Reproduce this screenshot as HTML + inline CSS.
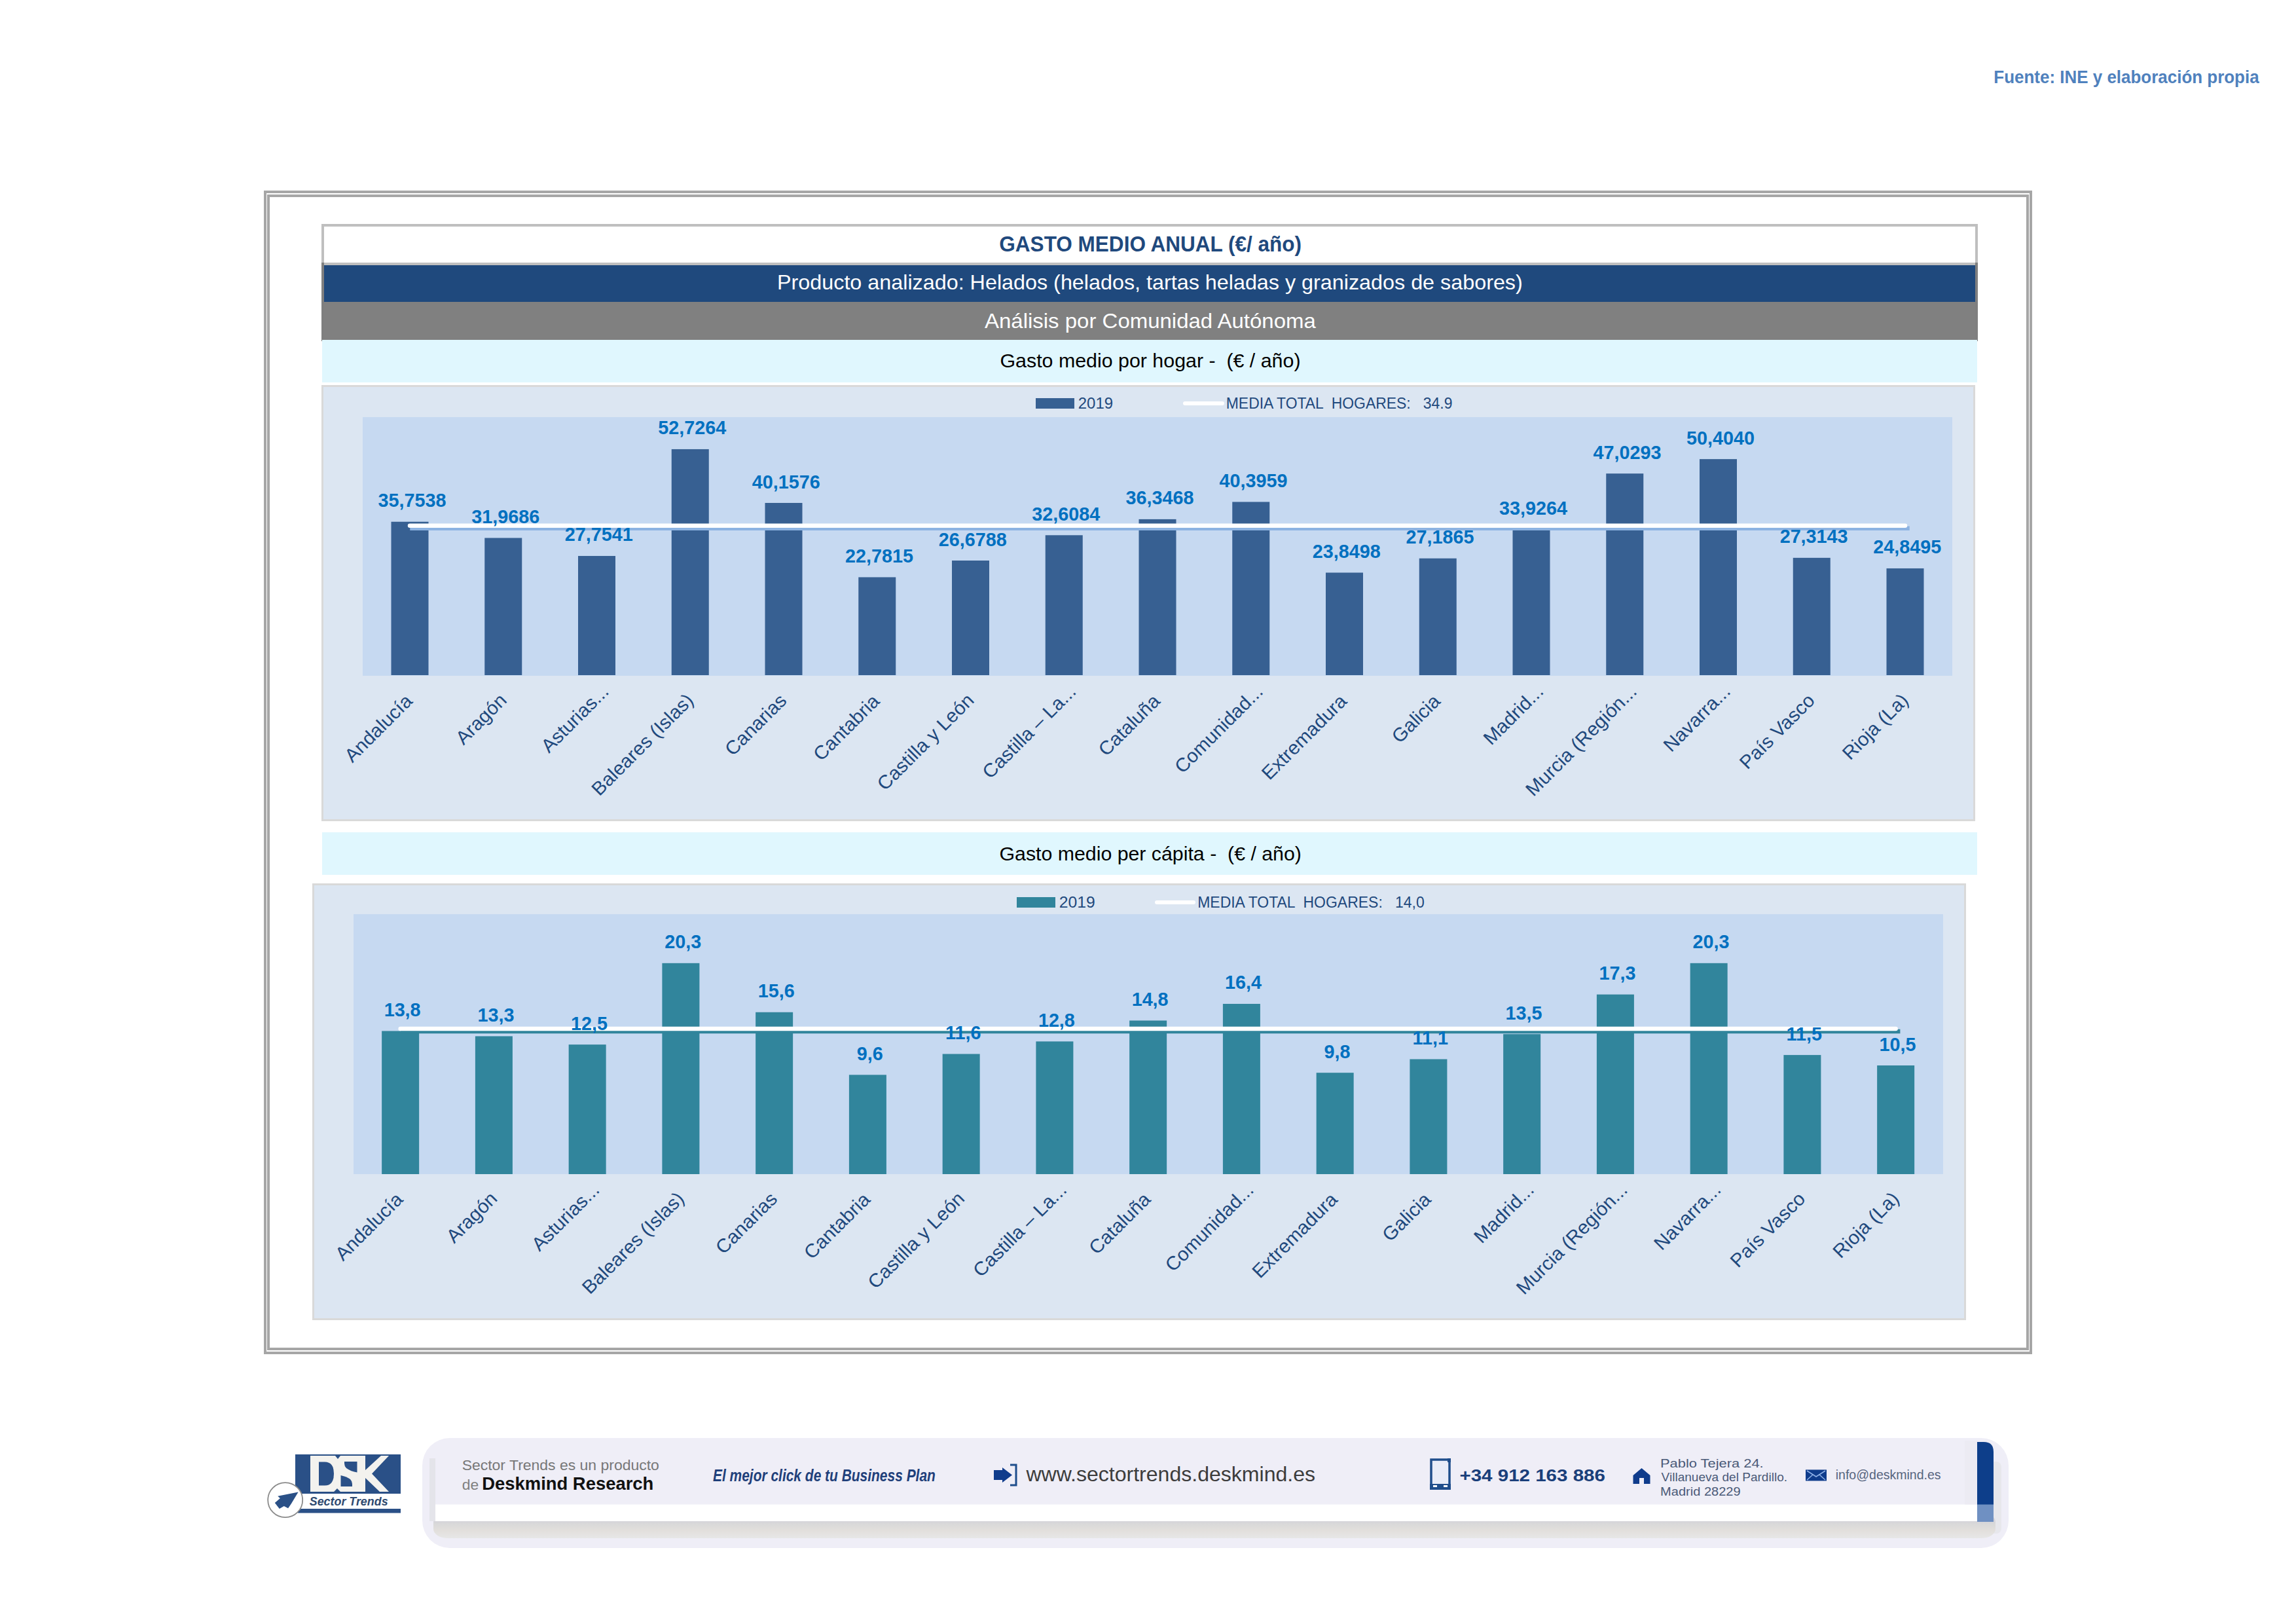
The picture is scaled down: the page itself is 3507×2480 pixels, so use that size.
<!DOCTYPE html>
<html><head><meta charset="utf-8"><style>
html,body{margin:0;padding:0;background:#ffffff;}
body{width:3507px;height:2480px;overflow:hidden;}
svg{display:block;font-family:"Liberation Sans",sans-serif;}
text{white-space:pre;}
</style></head><body>
<svg width="3507" height="2480" viewBox="0 0 3507 2480">
<text transform="matrix(0.9402 0 0 1 3045.31 127.00)" font-size="27.62" font-weight="bold" fill="#4f81bd">Fuente: INE y elaboración propia</text>
<rect x="405" y="293" width="2697" height="1773" fill="none" stroke="#a6a6a6" stroke-width="4"/>
<rect x="410" y="299" width="2687" height="1761" fill="none" stroke="#a6a6a6" stroke-width="4"/>
<rect x="491" y="342" width="2530" height="63" fill="#bfbfbf"/>
<rect x="495" y="346" width="2522" height="55" fill="#ffffff"/>
<text transform="matrix(0.9430 0 0 1 1526.34 384.00)" font-size="33.43" font-weight="bold" fill="#1f497d">GASTO MEDIO ANUAL (€/ año)</text>
<rect x="491" y="401" width="4" height="120" fill="#7f7f7f"/>
<rect x="3017" y="401" width="4" height="120" fill="#7f7f7f"/>
<rect x="495" y="401" width="2522" height="4" fill="#bfbfbf"/>
<rect x="495" y="405" width="2522" height="56" fill="#1f497d"/>
<rect x="495" y="461" width="2522" height="58" fill="#808080"/>
<text transform="matrix(1.0107 0 0 1 1187.01 441.80)" font-size="31.98" fill="#ffffff">Producto analizado: Helados (helados, tartas heladas y granizados de sabores)</text>
<text transform="matrix(1.0316 0 0 1 1504.00 500.60)" font-size="31.98" fill="#ffffff">Análisis por Comunidad Autónoma</text>
<rect x="492" y="519" width="2528" height="65" fill="#e0f7fe"/>
<text transform="matrix(1.0447 0 0 1 1527.48 561.40)" font-size="29.07" fill="#000000">Gasto medio por hogar -  (€ / año)</text>
<rect x="491" y="588" width="2526" height="666" fill="#d9d9d9"/>
<rect x="494" y="591" width="2520" height="660" fill="#dce6f2"/>
<rect x="554" y="637" width="2428" height="395" fill="#c6d9f1"/>
<rect x="597.50" y="796.76" width="57" height="234.24" fill="#376092"/>
<rect x="740.25" y="821.48" width="57" height="209.52" fill="#376092"/>
<rect x="883.00" y="848.99" width="57" height="182.01" fill="#376092"/>
<rect x="1025.75" y="685.95" width="57" height="345.05" fill="#376092"/>
<rect x="1168.50" y="768.01" width="57" height="262.99" fill="#376092"/>
<rect x="1311.25" y="881.46" width="57" height="149.54" fill="#376092"/>
<rect x="1454.00" y="856.01" width="57" height="174.99" fill="#376092"/>
<rect x="1596.75" y="817.30" width="57" height="213.70" fill="#376092"/>
<rect x="1739.50" y="792.89" width="57" height="238.11" fill="#376092"/>
<rect x="1882.25" y="766.46" width="57" height="264.54" fill="#376092"/>
<rect x="2025.00" y="874.48" width="57" height="156.52" fill="#376092"/>
<rect x="2167.75" y="852.70" width="57" height="178.30" fill="#376092"/>
<rect x="2310.50" y="808.69" width="57" height="222.31" fill="#376092"/>
<rect x="2453.25" y="723.15" width="57" height="307.85" fill="#376092"/>
<rect x="2596.00" y="701.11" width="57" height="329.89" fill="#376092"/>
<rect x="2738.75" y="851.86" width="57" height="179.14" fill="#376092"/>
<rect x="2881.50" y="867.96" width="57" height="163.04" fill="#376092"/>
<line x1="629.50" y1="806.80" x2="2913.50" y2="806.80" stroke="#8db3e2" stroke-width="6.5" stroke-linecap="square"/>
<line x1="626.00" y1="802.80" x2="2910.00" y2="802.80" stroke="#ffffff" stroke-width="6.5" stroke-linecap="round"/>
<text transform="matrix(0.9900 0 0 1 577.45 774.26)" font-size="29.07" font-weight="bold" fill="#0070c0">35,7538</text>
<text transform="matrix(0.9900 0 0 1 720.28 798.98)" font-size="29.07" font-weight="bold" fill="#0070c0">31,9686</text>
<text transform="matrix(0.9900 0 0 1 862.74 826.49)" font-size="29.07" font-weight="bold" fill="#0070c0">27,7541</text>
<text transform="matrix(0.9900 0 0 1 1005.27 663.45)" font-size="29.07" font-weight="bold" fill="#0070c0">52,7264</text>
<text transform="matrix(0.9900 0 0 1 1148.67 745.51)" font-size="29.07" font-weight="bold" fill="#0070c0">40,1576</text>
<text transform="matrix(0.9900 0 0 1 1290.99 858.96)" font-size="29.07" font-weight="bold" fill="#0070c0">22,7815</text>
<text transform="matrix(0.9900 0 0 1 1433.81 833.51)" font-size="29.07" font-weight="bold" fill="#0070c0">26,6788</text>
<text transform="matrix(0.9900 0 0 1 1576.34 794.80)" font-size="29.07" font-weight="bold" fill="#0070c0">32,6084</text>
<text transform="matrix(0.9900 0 0 1 1719.45 770.39)" font-size="29.07" font-weight="bold" fill="#0070c0">36,3468</text>
<text transform="matrix(0.9900 0 0 1 1862.42 743.96)" font-size="29.07" font-weight="bold" fill="#0070c0">40,3959</text>
<text transform="matrix(0.9900 0 0 1 2004.81 851.98)" font-size="29.07" font-weight="bold" fill="#0070c0">23,8498</text>
<text transform="matrix(0.9900 0 0 1 2147.49 830.20)" font-size="29.07" font-weight="bold" fill="#0070c0">27,1865</text>
<text transform="matrix(0.9900 0 0 1 2290.09 786.19)" font-size="29.07" font-weight="bold" fill="#0070c0">33,9264</text>
<text transform="matrix(0.9900 0 0 1 2433.42 700.65)" font-size="29.07" font-weight="bold" fill="#0070c0">47,0293</text>
<text transform="matrix(0.9900 0 0 1 2576.03 678.61)" font-size="29.07" font-weight="bold" fill="#0070c0">50,4040</text>
<text transform="matrix(0.9900 0 0 1 2718.63 829.36)" font-size="29.07" font-weight="bold" fill="#0070c0">27,3143</text>
<text transform="matrix(0.9900 0 0 1 2861.24 845.46)" font-size="29.07" font-weight="bold" fill="#0070c0">24,8495</text>
<text transform="matrix(0.72125 -0.72125 0.70711 0.70711 538.30 1165.70)" font-size="29.07" fill="#1f497d">Andalucía</text>
<text transform="matrix(0.72125 -0.72125 0.70711 0.70711 708.00 1138.75)" font-size="29.07" fill="#1f497d">Aragón</text>
<text transform="matrix(0.72125 -0.72125 0.70711 0.70711 838.42 1151.08)" font-size="29.07" fill="#1f497d">Asturias...</text>
<text transform="matrix(0.72125 -0.72125 0.70711 0.70711 915.40 1216.85)" font-size="29.07" fill="#1f497d">Baleares (Islas)</text>
<text transform="matrix(0.72125 -0.72125 0.70711 0.70711 1119.37 1155.63)" font-size="29.07" fill="#1f497d">Canarias</text>
<text transform="matrix(0.72125 -0.72125 0.70711 0.70711 1254.36 1163.39)" font-size="29.07" fill="#1f497d">Cantabria</text>
<text transform="matrix(0.72125 -0.72125 0.70711 0.70711 1351.82 1208.68)" font-size="29.07" fill="#1f497d">Castilla y León</text>
<text transform="matrix(0.72125 -0.72125 0.70711 0.70711 1512.54 1190.71)" font-size="29.07" fill="#1f497d">Castilla – La...</text>
<text transform="matrix(0.72125 -0.72125 0.70711 0.70711 1689.63 1156.37)" font-size="29.07" fill="#1f497d">Cataluña</text>
<text transform="matrix(0.72125 -0.72125 0.70711 0.70711 1806.22 1182.53)" font-size="29.07" fill="#1f497d">Comunidad...</text>
<text transform="matrix(0.72125 -0.72125 0.70711 0.70711 1938.97 1192.53)" font-size="29.07" fill="#1f497d">Extremadura</text>
<text transform="matrix(0.72125 -0.72125 0.70711 0.70711 2137.70 1136.55)" font-size="29.07" fill="#1f497d">Galicia</text>
<text transform="matrix(0.72125 -0.72125 0.70711 0.70711 2277.66 1139.34)" font-size="29.07" fill="#1f497d">Madrid...</text>
<text transform="matrix(0.72125 -0.72125 0.70711 0.70711 2342.31 1217.44)" font-size="29.07" fill="#1f497d">Murcia (Región...</text>
<text transform="matrix(0.72125 -0.72125 0.70711 0.70711 2552.68 1149.82)" font-size="29.07" fill="#1f497d">Navarra...</text>
<text transform="matrix(0.72125 -0.72125 0.70711 0.70711 2669.07 1176.18)" font-size="29.07" fill="#1f497d">País Vasco</text>
<text transform="matrix(0.72125 -0.72125 0.70711 0.70711 2825.97 1162.03)" font-size="29.07" fill="#1f497d">Rioja (La)</text>
<rect x="1582" y="608" width="59" height="16" fill="#376092"/>
<text transform="matrix(0.9690 0 0 1 1646.80 624.00)" font-size="24.71" fill="#1f497d">2019</text>
<line x1="1810" y1="616" x2="1867" y2="616" stroke="#ffffff" stroke-width="6" stroke-linecap="round"/>
<text transform="matrix(0.9282 0 0 1 1872.77 624.00)" font-size="24.71" fill="#1f497d">MEDIA TOTAL  HOGARES:   34.9</text>
<rect x="492" y="1271" width="2528" height="65" fill="#e0f7fe"/>
<text transform="matrix(1.0424 0 0 1 1526.48 1313.50)" font-size="29.07" fill="#000000">Gasto medio per cápita -  (€ / año)</text>
<rect x="477" y="1349" width="2526" height="667" fill="#d9d9d9"/>
<rect x="480" y="1352" width="2520" height="661" fill="#dce6f2"/>
<rect x="540" y="1396" width="2428" height="397" fill="#c6d9f1"/>
<rect x="583.15" y="1574.43" width="57" height="218.57" fill="#31859c"/>
<rect x="725.90" y="1582.40" width="57" height="210.60" fill="#31859c"/>
<rect x="868.65" y="1595.15" width="57" height="197.85" fill="#31859c"/>
<rect x="1011.40" y="1470.82" width="57" height="322.18" fill="#31859c"/>
<rect x="1154.15" y="1545.74" width="57" height="247.26" fill="#31859c"/>
<rect x="1296.90" y="1641.38" width="57" height="151.62" fill="#31859c"/>
<rect x="1439.65" y="1609.50" width="57" height="183.50" fill="#31859c"/>
<rect x="1582.40" y="1590.37" width="57" height="202.63" fill="#31859c"/>
<rect x="1725.15" y="1558.49" width="57" height="234.51" fill="#31859c"/>
<rect x="1867.90" y="1532.98" width="57" height="260.02" fill="#31859c"/>
<rect x="2010.65" y="1638.19" width="57" height="154.81" fill="#31859c"/>
<rect x="2153.40" y="1617.47" width="57" height="175.53" fill="#31859c"/>
<rect x="2296.15" y="1579.21" width="57" height="213.79" fill="#31859c"/>
<rect x="2438.90" y="1518.64" width="57" height="274.36" fill="#31859c"/>
<rect x="2581.65" y="1470.82" width="57" height="322.18" fill="#31859c"/>
<rect x="2724.40" y="1611.09" width="57" height="181.91" fill="#31859c"/>
<rect x="2867.15" y="1627.03" width="57" height="165.97" fill="#31859c"/>
<line x1="615.15" y1="1575.10" x2="2899.15" y2="1575.10" stroke="#31859c" stroke-width="6.5" stroke-linecap="square"/>
<line x1="611.65" y1="1571.10" x2="2895.65" y2="1571.10" stroke="#ffffff" stroke-width="6.5" stroke-linecap="round"/>
<text transform="matrix(0.9900 0 0 1 586.63 1551.93)" font-size="29.07" font-weight="bold" fill="#0070c0">13,8</text>
<text transform="matrix(0.9900 0 0 1 729.45 1559.90)" font-size="29.07" font-weight="bold" fill="#0070c0">13,3</text>
<text transform="matrix(0.9900 0 0 1 872.06 1572.65)" font-size="29.07" font-weight="bold" fill="#0070c0">12,5</text>
<text transform="matrix(0.9900 0 0 1 1015.31 1448.32)" font-size="29.07" font-weight="bold" fill="#0070c0">20,3</text>
<text transform="matrix(0.9900 0 0 1 1157.70 1523.24)" font-size="29.07" font-weight="bold" fill="#0070c0">15,6</text>
<text transform="matrix(0.9900 0 0 1 1308.80 1618.88)" font-size="29.07" font-weight="bold" fill="#0070c0">9,6</text>
<text transform="matrix(0.9900 0 0 1 1443.99 1587.00)" font-size="29.07" font-weight="bold" fill="#0070c0">11,6</text>
<text transform="matrix(0.9900 0 0 1 1585.88 1567.87)" font-size="29.07" font-weight="bold" fill="#0070c0">12,8</text>
<text transform="matrix(0.9900 0 0 1 1728.63 1535.99)" font-size="29.07" font-weight="bold" fill="#0070c0">14,8</text>
<text transform="matrix(0.9900 0 0 1 1871.02 1510.48)" font-size="29.07" font-weight="bold" fill="#0070c0">16,4</text>
<text transform="matrix(0.9900 0 0 1 2022.48 1615.69)" font-size="29.07" font-weight="bold" fill="#0070c0">9,8</text>
<text transform="matrix(0.9900 0 0 1 2157.60 1594.97)" font-size="29.07" font-weight="bold" fill="#0070c0">11,1</text>
<text transform="matrix(0.9900 0 0 1 2299.56 1556.71)" font-size="29.07" font-weight="bold" fill="#0070c0">13,5</text>
<text transform="matrix(0.9900 0 0 1 2442.45 1496.14)" font-size="29.07" font-weight="bold" fill="#0070c0">17,3</text>
<text transform="matrix(0.9900 0 0 1 2585.56 1448.32)" font-size="29.07" font-weight="bold" fill="#0070c0">20,3</text>
<text transform="matrix(0.9900 0 0 1 2728.60 1588.59)" font-size="29.07" font-weight="bold" fill="#0070c0">11,5</text>
<text transform="matrix(0.9900 0 0 1 2870.56 1604.53)" font-size="29.07" font-weight="bold" fill="#0070c0">10,5</text>
<text transform="matrix(0.72125 -0.72125 0.70711 0.70711 523.95 1926.70)" font-size="29.07" fill="#1f497d">Andalucía</text>
<text transform="matrix(0.72125 -0.72125 0.70711 0.70711 693.65 1899.75)" font-size="29.07" fill="#1f497d">Aragón</text>
<text transform="matrix(0.72125 -0.72125 0.70711 0.70711 824.07 1912.08)" font-size="29.07" fill="#1f497d">Asturias...</text>
<text transform="matrix(0.72125 -0.72125 0.70711 0.70711 901.05 1977.85)" font-size="29.07" fill="#1f497d">Baleares (Islas)</text>
<text transform="matrix(0.72125 -0.72125 0.70711 0.70711 1105.02 1916.63)" font-size="29.07" fill="#1f497d">Canarias</text>
<text transform="matrix(0.72125 -0.72125 0.70711 0.70711 1240.01 1924.39)" font-size="29.07" fill="#1f497d">Cantabria</text>
<text transform="matrix(0.72125 -0.72125 0.70711 0.70711 1337.47 1969.68)" font-size="29.07" fill="#1f497d">Castilla y León</text>
<text transform="matrix(0.72125 -0.72125 0.70711 0.70711 1498.19 1951.71)" font-size="29.07" fill="#1f497d">Castilla – La...</text>
<text transform="matrix(0.72125 -0.72125 0.70711 0.70711 1675.28 1917.37)" font-size="29.07" fill="#1f497d">Cataluña</text>
<text transform="matrix(0.72125 -0.72125 0.70711 0.70711 1791.87 1943.53)" font-size="29.07" fill="#1f497d">Comunidad...</text>
<text transform="matrix(0.72125 -0.72125 0.70711 0.70711 1924.62 1953.53)" font-size="29.07" fill="#1f497d">Extremadura</text>
<text transform="matrix(0.72125 -0.72125 0.70711 0.70711 2123.35 1897.55)" font-size="29.07" fill="#1f497d">Galicia</text>
<text transform="matrix(0.72125 -0.72125 0.70711 0.70711 2263.31 1900.34)" font-size="29.07" fill="#1f497d">Madrid...</text>
<text transform="matrix(0.72125 -0.72125 0.70711 0.70711 2327.96 1978.44)" font-size="29.07" fill="#1f497d">Murcia (Región...</text>
<text transform="matrix(0.72125 -0.72125 0.70711 0.70711 2538.33 1910.82)" font-size="29.07" fill="#1f497d">Navarra...</text>
<text transform="matrix(0.72125 -0.72125 0.70711 0.70711 2654.72 1937.18)" font-size="29.07" fill="#1f497d">País Vasco</text>
<text transform="matrix(0.72125 -0.72125 0.70711 0.70711 2811.62 1923.03)" font-size="29.07" fill="#1f497d">Rioja (La)</text>
<rect x="1553" y="1370" width="59" height="16" fill="#31859c"/>
<text transform="matrix(1.0013 0 0 1 1617.76 1386.00)" font-size="24.71" fill="#1f497d">2019</text>
<line x1="1767" y1="1378" x2="1823" y2="1378" stroke="#ffffff" stroke-width="6" stroke-linecap="round"/>
<text transform="matrix(0.9303 0 0 1 1829.16 1386.00)" font-size="24.71" fill="#1f497d">MEDIA TOTAL  HOGARES:   14,0</text>
<defs><linearGradient id="shd" x1="0" y1="0" x2="0" y2="1"><stop offset="0" stop-color="#d9d9d9"/><stop offset="0.3" stop-color="#d4d3da"/><stop offset="0.45" stop-color="#d9d9d9"/><stop offset="0.7" stop-color="#e2dfdc"/><stop offset="1" stop-color="#e7e7e7"/></linearGradient></defs>
<rect x="645" y="2196" width="2423" height="168" rx="42" ry="42" fill="#efeef7"/>
<rect x="3040" y="2232" width="17" height="110" rx="8" fill="#e7e7ec"/>
<rect x="662" y="2310" width="2386" height="39" rx="22" ry="14" fill="url(#shd)"/>
<rect x="656" y="2227" width="9" height="96" fill="#e4e4ea"/>
<rect x="665" y="2297.5" width="2356" height="25.5" fill="#ffffff"/>
<rect x="3001" y="2200" width="19" height="97.5" fill="#ecebf3"/>
<path d="M3020 2202 H3030 Q3045 2202 3045 2217 V2324 H3020 Z" fill="#0d3e8a"/>
<rect x="3020" y="2297.5" width="25" height="26.5" fill="#6f90c2"/>
<rect x="451" y="2221" width="161" height="60" fill="#2a5087"/>
<path d="M474 2223 H558 V2278 H474 Z" fill="#f3f2ee"/>
<path d="M487 2232.5 H496 Q510 2232.5 510 2250.5 Q510 2268.5 496 2268.5 H487 Z" fill="#2a5087"/>
<path d="M512 2223 L516 2228 L520 2223 Z M510 2278 L515 2273 L520 2278 Z" fill="#2a5087"/>
<path d="M526 2232 H545.5 V2248.5 Q536 2247 529 2242 Q526 2239 526 2235 Z" fill="#2a5087"/>
<path d="M520.5 2253 Q530 2255 535 2259 Q538 2262 538 2266 V2270 H520.5 Z" fill="#2a5087"/>
<path d="M558 2245 L582 2223 H594 L568 2250.5 L594 2278 H580 L558 2257 Z" fill="#f3f2ee"/>
<rect x="455" y="2304" width="157" height="6.5" fill="#2a5087"/>
<text transform="matrix(0.9842 0 0 1 472.73 2298.70)" font-size="18.17" font-weight="bold" font-style="italic" fill="#2f4a70">Sector Trends</text>
<circle cx="435.7" cy="2290.7" r="26.5" fill="#ffffff" stroke="#8a8a8a" stroke-width="1.8"/>
<path d="M455.6 2278.5 L424.2 2284.8 L427.9 2288.1 L419.8 2295.1 L426.8 2304 L433.8 2299.9 L440.1 2303.2 L444.9 2296.2 Z" fill="#2a5087"/>
<text transform="matrix(1.0542 0 0 1 705.67 2245.30)" font-size="21.80" fill="#777777">Sector Trends es un producto</text>
<text transform="matrix(1.0516 0 0 1 705.78 2275.00)" font-size="21.80" fill="#808080">de</text>
<text transform="matrix(0.9929 0 0 1 736.22 2275.00)" font-size="27.62" font-weight="bold" fill="#111111">Deskmind Research</text>
<text transform="matrix(0.8235 0 0 1 1088.98 2262.00)" font-size="25.44" font-weight="bold" font-style="italic" fill="#1f3f7a">El mejor click de tu Business Plan</text>
<path d="M1518 2245 H1531 V2241 L1546 2252.5 L1531 2264 V2260 H1518 Z" fill="#0f3c8c"/>
<path d="M1543 2237 H1552 V2268 H1543" fill="none" stroke="#1f4e8c" stroke-width="3"/>
<text transform="matrix(1.0355 0 0 1 1567.40 2261.60)" font-size="30.96" fill="#3c3c3c">www.sectortrends.deskmind.es</text>
<rect x="2186" y="2229" width="28" height="44" fill="#e8ecf8" stroke="#1f4e8c" stroke-width="3.5"/>
<rect x="2184" y="2266" width="32" height="9" fill="#1f4e8c"/>
<rect x="2211" y="2227" width="5" height="6" fill="#1f4e8c"/>
<rect x="2189" y="2268" width="6" height="3" fill="#ffffff"/>
<rect x="2205" y="2268" width="6" height="3" fill="#ffffff"/>
<text transform="matrix(1.1484 0 0 1 2229.42 2262.20)" font-size="25.73" font-weight="bold" fill="#1a3f7a">+34 912 163 886</text>
<path d="M2494.5 2253 L2507.5 2242 L2520.5 2253 V2266 H2511 V2257 H2504 V2266 H2494.5 Z" fill="#0f3c8c"/>
<text transform="matrix(1.1585 0 0 1 2535.95 2240.60)" font-size="18.90" fill="#4a5a78">Pablo Tejera 24.</text>
<text transform="matrix(1.0092 0 0 1 2537.60 2262.00)" font-size="18.90" fill="#4a5a78">Villanueva del Pardillo.</text>
<text transform="matrix(1.0602 0 0 1 2536.10 2283.60)" font-size="18.90" fill="#4a5a78">Madrid 28229</text>
<rect x="2758" y="2244.4" width="32" height="17" fill="#0f3c8c"/>
<path d="M2760 2246 L2774 2255 L2788 2246 M2760 2260 L2769 2252 M2788 2260 L2779 2252" fill="none" stroke="#8fb2e8" stroke-width="1.5"/>
<text transform="matrix(0.9881 0 0 1 2803.73 2258.80)" font-size="19.77" fill="#56647e">info@deskmind.es</text>
</svg>
</body></html>
